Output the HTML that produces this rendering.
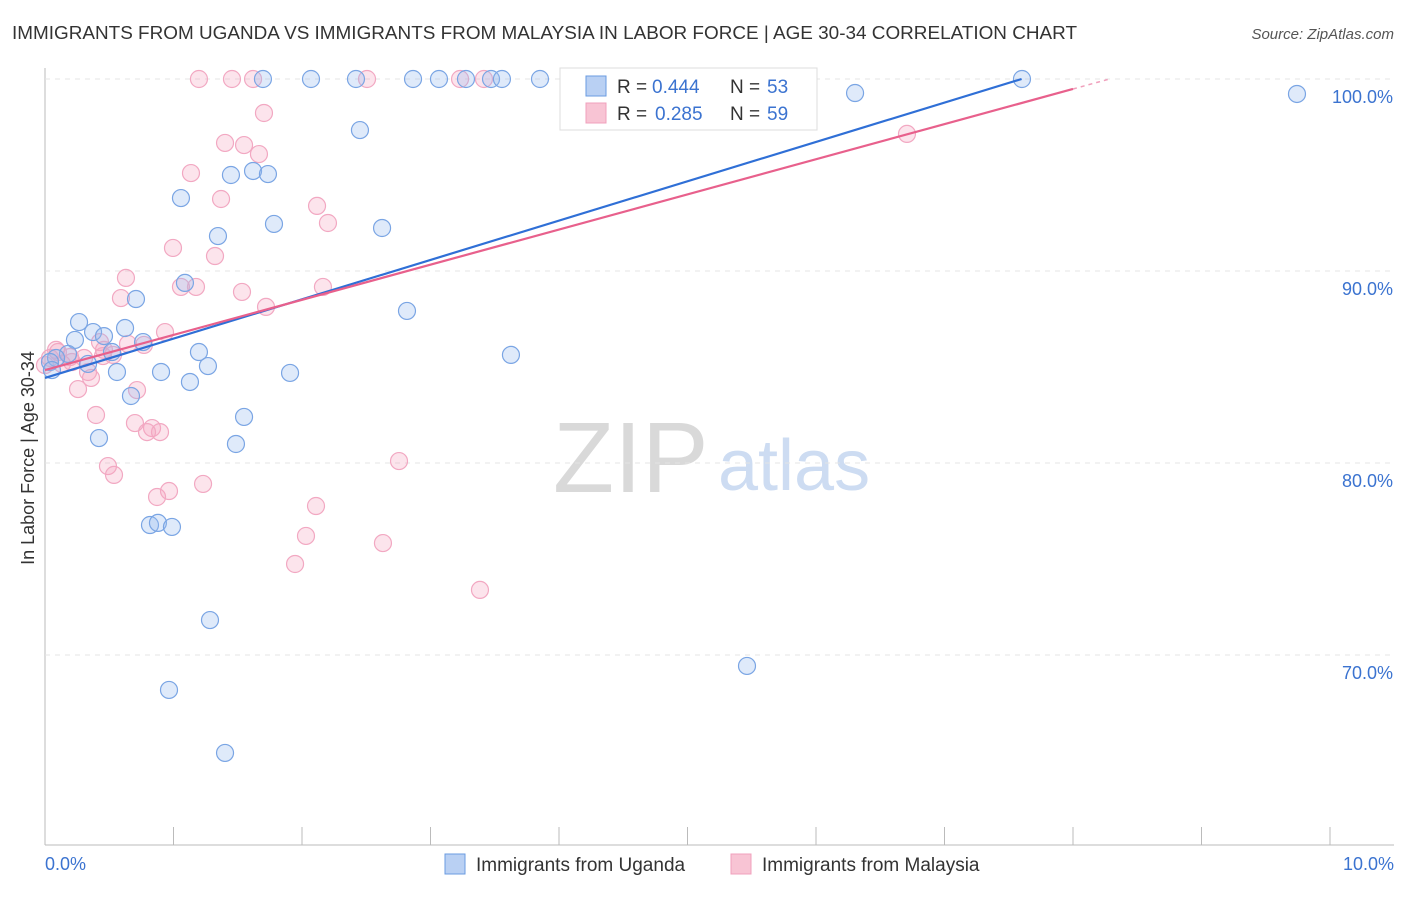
<!DOCTYPE html>
<html><head><meta charset="utf-8"><style>
body{margin:0;background:#fff;font-family:"Liberation Sans",sans-serif}
svg text{font-family:"Liberation Sans",sans-serif}
</style></head><body>
<svg id="c" width="1406" height="892">
<text x="12" y="39" font-size="18" fill="#333" textLength="1065" lengthAdjust="spacingAndGlyphs">IMMIGRANTS FROM UGANDA VS IMMIGRANTS FROM MALAYSIA IN LABOR FORCE | AGE 30-34 CORRELATION CHART</text>
<text x="1394" y="39" font-size="15" fill="#555" font-style="italic" text-anchor="end">Source: ZipAtlas.com</text>
<text x="34" y="458" font-size="18" fill="#333" transform="rotate(-90 34 458)" text-anchor="middle">In Labor Force | Age 30-34</text>
<text x="553" y="492" font-size="100" fill="#d9d9d9" font-family="Liberation Serif">ZIP</text>
<text x="718" y="490" font-size="72" fill="#cddcf2">atlas</text>
<g id="grid"></g><g id="pts"></g><g id="lines"></g>
<g>
<rect x="560" y="68" width="257" height="62" fill="#fff" stroke="#ddd"/>
<rect x="586" y="76" width="20" height="20" fill="#b9d0f3" stroke="#6a9be0"/>
<text x="617" y="93" font-size="19" fill="#333">R =</text>
<text x="652" y="93" font-size="19" fill="#3b73d0">0.444</text>
<text x="730" y="93" font-size="19" fill="#333">N =</text>
<text x="767" y="93" font-size="19" fill="#3b73d0">53</text>
<rect x="586" y="103" width="20" height="20" fill="#f8c4d4" stroke="#f0a0bc"/>
<text x="617" y="120" font-size="19" fill="#333">R =</text>
<text x="655" y="120" font-size="19" fill="#3b73d0">0.285</text>
<text x="730" y="120" font-size="19" fill="#333">N =</text>
<text x="767" y="120" font-size="19" fill="#3b73d0">59</text>
</g>
<g>
<rect x="445" y="854" width="20" height="20" fill="#b9d0f3" stroke="#6a9be0"/>
<text x="476" y="871" font-size="19" fill="#333">Immigrants from Uganda</text>
<rect x="731" y="854" width="20" height="20" fill="#f8c4d4" stroke="#f0a0bc"/>
<text x="762" y="871" font-size="19" fill="#333">Immigrants from Malaysia</text>
</g>
</svg>
<script>
const xTicks=[0,1,2,3,4,5,6,7,8,9,10];
const yTicks=[70,80,90,100];
const yTickLabels=["70.0%","80.0%","90.0%","100.0%"];
const ugandaPx=[[263,79],[311,79],[356,79],[413,79],[439,79],[466,79],[491,79],[502,79],[540,79],[1022,79],[855,93],[1297,94],[360,130],[231,175],[253,171],[268,174],[181,198],[274,224],[218,236],[382,228],[185,283],[136,299],[407,311],[79,322],[93,332],[125,328],[104,336],[75,340],[143,342],[112,352],[199,352],[511,355],[68,354],[56,358],[50,362],[88,364],[117,372],[161,372],[208,366],[290,373],[190,382],[131,396],[244,417],[99,438],[236,444],[150,525],[158,523],[172,527],[210,620],[747,666],[169,690],[225,753],[52,370]];
const malaysiaPx=[[199,79],[232,79],[253,79],[367,79],[460,79],[484,79],[264,113],[225,143],[244,145],[259,154],[907,134],[191,173],[221,199],[317,206],[328,223],[173,248],[215,256],[126,278],[181,287],[196,287],[242,292],[121,298],[266,307],[323,287],[165,332],[100,342],[144,345],[56,350],[70,357],[84,358],[113,355],[103,356],[88,372],[91,378],[137,390],[78,389],[96,415],[135,423],[152,428],[160,432],[147,432],[108,466],[114,475],[157,497],[169,491],[203,484],[399,461],[316,506],[306,536],[383,543],[295,564],[480,590],[58,352],[50,358],[62,364],[72,362],[128,344],[104,350],[45,365]];
const ugandaX=ugandaPx.map(p=>+((p[0]-45)/128.5).toFixed(3));
const ugandaY=ugandaPx.map(p=>+(100-(p[1]-79)/19.2).toFixed(2));
const malaysiaX=malaysiaPx.map(p=>+((p[0]-45)/128.5).toFixed(3));
const malaysiaY=malaysiaPx.map(p=>+(100-(p[1]-79)/19.2).toFixed(2));
const ugandaTrend=[84.43,100.0];
const malaysiaTrend=[84.84,99.48];
const X=v=>45+v*128.5, Y=v=>79+(100-v)*19.2;
const NS="http://www.w3.org/2000/svg";
function mk(t,a,parent){const e=document.createElementNS(NS,t);for(const k in a)e.setAttribute(k,a[k]);parent.appendChild(e);return e;}
const g=document.getElementById('grid');
let ax=mk('line',{x1:45,y1:68,x2:45,y2:845,stroke:'#bbb'},g);


let bx=mk('line',{x1:45,y1:845,x2:1394,y2:845,stroke:'#bbb'},g);


yTicks.forEach((t,i)=>{
 const gl=mk('line',{x1:45,x2:1394,y1:Y(t),y2:Y(t),stroke:'#e4e4e4','stroke-dasharray':'5,5'},g);
 
 
 const tx=mk('text',{x:1393,y:Y(t)+24,'font-size':18,fill:'#3b73d0','text-anchor':'end'},g);tx.textContent=yTickLabels[i];
 
 
});
xTicks.forEach(t=>{
 const l=mk('line',{x1:X(t),x2:X(t),y1:827,y2:845,stroke:'#bbb'},g);
 
 
});
let x0=mk('text',{x:45,y:870,'font-size':18,fill:'#3b73d0'},g);x0.textContent='0.0%';


let x1=mk('text',{x:1394,y:870,'font-size':18,fill:'#3b73d0','text-anchor':'end'},g);x1.textContent='10.0%';


const pg=document.getElementById('pts');
malaysiaX.forEach((x,i)=>{const c=mk('circle',{cx:X(x),cy:Y(malaysiaY[i]),r:8.5,fill:'rgba(245,165,192,0.3)',stroke:'#f2a8c2','stroke-width':1.2},pg);
 
 });
ugandaX.forEach((x,i)=>{const c=mk('circle',{cx:X(x),cy:Y(ugandaY[i]),r:8.5,fill:'rgba(150,185,240,0.3)',stroke:'#7aa5e4','stroke-width':1.2},pg);
 
 });
const lg=document.getElementById('lines');
let l1=mk('line',{x1:X(0),y1:Y(ugandaTrend[0]),x2:X(7.6),y2:Y(ugandaTrend[1]),stroke:'#2f6fd6','stroke-width':2.2},lg);


let l2=mk('line',{x1:X(0),y1:Y(malaysiaTrend[0]),x2:X(8),y2:Y(malaysiaTrend[1]),stroke:'#e8608c','stroke-width':2.2},lg);


const s=(malaysiaTrend[1]-malaysiaTrend[0])/8;
let l3=mk('line',{x1:X(8),y1:Y(malaysiaTrend[1]),x2:X(8.3),y2:Y(malaysiaTrend[1]+s*0.3),stroke:'#f0a0bc','stroke-width':1.5,'stroke-dasharray':'4,4'},lg);


</script>
</body></html>
